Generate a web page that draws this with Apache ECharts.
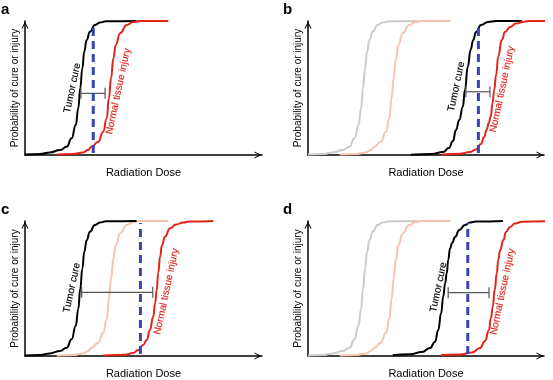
<!DOCTYPE html>
<html>
<head>
<meta charset="utf-8">
<script src="https://cdn.jsdelivr.net/npm/echarts@6/dist/echarts.min.js"></script>
<style>html,body{margin:0;padding:0;background:#fff;}#chart{width:553px;height:380px;}</style>
</head>
<body>
<div id="chart"></div>
<script>
// ---- data: [dose (arbitrary units), probability (%)] ----
// panel a (these two curves reappear faded as the reference curves in panels b-d)
const aTumor = [[0,0.3],[6.3,0.7],[10.5,1.9],[14.8,3.7],[17.6,6.2],[19.7,12.5],[21.4,22.4],[22.5,34.9],[23.3,49.8],[24.2,64.7],[25.0,77.1],[26.0,85.8],[27.4,92.0],[29.5,97.0],[31.6,98.9],[34.2,99.8],[47.1,100]];
const aNormal = [[13.4,0.4],[20.3,0.7],[24.5,1.9],[26.6,3.7],[28.1,6.2],[30.9,9.9],[33.0,17.4],[34.5,27.4],[35.4,42.3],[36.3,57.2],[37.3,72.2],[38.3,82.1],[40.1,90.8],[42.9,97.0],[45.6,99.3],[48.5,100],[60.5,100]];

// panel b
const bTumor = [[43.6,0.2],[52.5,0.7],[57.2,2.2],[59.7,5.2],[61.4,10.4],[62.7,18.7],[64.1,26.1],[65.6,36.0],[66.5,48.5],[67.7,65.9],[68.9,78.4],[70.0,85.8],[71.2,91.8],[73.3,97.0],[76.3,99.3],[79.7,100],[90.6,100]];
const bNormal = [[56.7,0.4],[64.4,0.9],[68.6,2.2],[71.2,4.1],[73.3,8.2],[74.6,13.4],[75.7,18.7],[76.6,23.9],[77.4,28.6],[78.2,38.8],[78.9,48.5],[79.7,59.7],[80.6,73.4],[82.1,85.8],[83.5,91.8],[85.6,95.5],[88.1,98.1],[91.5,99.5],[94.1,100],[103.8,100]];

// panel c (tumor curve unchanged from a)
const cTumor = [[0,0.3],[6.3,0.7],[10.5,1.9],[14.8,3.7],[17.6,6.2],[19.7,12.5],[21.4,22.4],[22.5,34.9],[23.3,49.8],[24.2,64.7],[25.0,77.1],[26.0,85.8],[27.4,92.0],[29.5,97.0],[31.6,98.9],[34.2,99.8],[47.1,100]];
const cNormal = [[33.0,0.4],[42.2,0.9],[45.6,2.2],[47.8,4.4],[49.8,8.1],[51.4,11.9],[52.7,19.3],[54.1,29.1],[54.9,39.3],[55.6,48.9],[56.2,61.5],[57.0,73.6],[57.8,82.2],[59.1,88.4],[61.2,94.6],[63.7,97.4],[66.7,98.9],[69.6,99.6],[79.5,100]];

// panel d
const dTumor = [[35.9,0.5],[43.2,1.3],[48.3,3.0],[51.7,5.9],[53.8,10.4],[55.2,19.3],[56.4,31.6],[57.3,43.9],[58.1,53.9],[58.8,61.3],[59.4,71.1],[60.2,79.8],[61.1,83.9],[62.3,88.1],[64.1,93.3],[66.5,97.0],[68.6,98.9],[71.2,99.6],[82.6,100]];
const dNormal = [[56.4,0.7],[64.4,1.1],[69.5,2.6],[72.9,5.9],[75.0,11.1],[76.7,19.3],[77.5,28.1],[78.3,36.5],[79.1,48.9],[80.0,61.3],[80.6,71.1],[81.4,78.5],[82.8,85.9],[83.9,91.9],[85.6,95.6],[87.7,98.1],[90.7,99.4],[103.8,100]];

// prescribed dose (blue dashed line) per panel a..d
const prescribedDose = [28.8, 72.2, 48.7, 67.7];
const prescribedSpan = [1.5, 98.5];
// therapeutic window bars per panel: [doseFrom, doseTo, probability]
const windowBars = [[23.6,33.8,46.0],[66.9,77.1,47.2],[23.9,53.9,47.2],[59.4,76.7,46.9]];
// curve label anchors per panel: [tumor label [dose, prob], normal label [dose, prob]]
const curveLabelPos = [
  [[20.0,50.0],[39.4,47.5]],
  [[62.9,51.0],[82.3,49.0]],
  [[19.8,50.5],[59.7,47.8]],
  [[55.3,50.9],[82.5,47.6]]
];
const panelLetters = ['a','b','c','d'];
const tumorText = 'Tumor cure';
const normalText = 'Normal tissue injury';
const xAxisTitle = 'Radiation Dose';
const yAxisTitle = 'Probability of cure or injury';

// ---- styling / layout ----
const FONT = '"Liberation Sans", Arial, Helvetica, sans-serif';
const BLACK = '#000000', RED = '#e2231a', BLUE = '#3a44b4', GHOST_GRAY = '#cbcbcb', GHOST_RED = '#f8c3ae', BAR = '#555555';
const grids = [
  {left: 25, top: 21, width: 237, height: 134},
  {left: 308, top: 21, width: 236, height: 134},
  {left: 25, top: 221, width: 237, height: 135},
  {left: 308, top: 221, width: 236, height: 135}
];
const letterPos = [[1,2],[283,2],[1,202],[283,202]];
const chevron = 'path://M0,10 L5,0 L10,10 L8.4,10 L5,3.2 L1.6,10 Z';

const panels = [
  {ghosts: [], tumor: aTumor, normal: aNormal},
  {ghosts: [[aTumor, GHOST_GRAY],[aNormal, GHOST_RED]], tumor: bTumor, normal: bNormal},
  {ghosts: [[aNormal, GHOST_RED]], tumor: cTumor, normal: cNormal},
  {ghosts: [[aTumor, GHOST_GRAY],[aNormal, GHOST_RED]], tumor: dTumor, normal: dNormal}
];

function axisLineCfg() {
  return {show: true, onZero: false, symbol: ['none', chevron], symbolSize: [7, 8], symbolOffset: [0, -4],
          lineStyle: {color: BLACK, width: 1.5}};
}

const xAxes = [], yAxes = [], series = [], titles = [];
grids.forEach((g, i) => {
  g.outerBoundsMode = 'none';
  g.containLabel = false;
  xAxes.push({gridIndex: i, type: 'value', min: 0, max: 100,
    axisLine: axisLineCfg(), axisTick: {show: false}, axisLabel: {show: false}, splitLine: {show: false},
    name: xAxisTitle, nameLocation: 'middle', nameGap: 12,
    nameTextStyle: {fontFamily: FONT, fontSize: 11, color: BLACK}});
  yAxes.push({gridIndex: i, type: 'value', min: 0, max: 100,
    axisLine: axisLineCfg(), axisTick: {show: false}, axisLabel: {show: false}, splitLine: {show: false},
    name: yAxisTitle, nameLocation: 'middle', nameGap: 5,
    nameTextStyle: {fontFamily: FONT, fontSize: 10, color: BLACK}});
  titles.push({text: panelLetters[i], left: letterPos[i][0], top: letterPos[i][1], padding: 0,
    textStyle: {fontFamily: FONT, fontSize: 15, fontWeight: 'bold', color: BLACK}});

  const p = panels[i];
  const lineBase = {type: 'line', xAxisIndex: i, yAxisIndex: i, symbol: 'none', smooth: 0.5,
    smoothMonotone: 'x', clip: false, silent: true};
  p.ghosts.forEach(([d, c]) => series.push(Object.assign({}, lineBase, {data: d, lineStyle: {color: c, width: 2}, z: 2})));
  series.push(Object.assign({}, lineBase, {data: p.tumor, lineStyle: {color: BLACK, width: 2}, z: 3}));
  series.push(Object.assign({}, lineBase, {data: p.normal, lineStyle: {color: RED, width: 2}, z: 3}));
  series.push({type: 'custom', xAxisIndex: i, yAxisIndex: i, silent: true, z: 4,
    data: [windowBars[i]], encode: {x: [0, 1], y: 2},
    renderItem: function (params, api) {
      const y = api.value(2);
      const p1 = api.coord([api.value(0), y]);
      const p2 = api.coord([api.value(1), y]);
      const cap = 5.5;
      const st = {stroke: BAR, lineWidth: 1.2};
      return {type: 'group', children: [
        {type: 'line', shape: {x1: p1[0], y1: p1[1], x2: p2[0], y2: p2[1]}, style: st},
        {type: 'line', shape: {x1: p1[0], y1: p1[1] - cap, x2: p1[0], y2: p1[1] + cap}, style: st},
        {type: 'line', shape: {x1: p2[0], y1: p2[1] - cap, x2: p2[0], y2: p2[1] + cap}, style: st}
      ]};
    }});
  series.push(Object.assign({}, lineBase, {smooth: false,
    data: [[prescribedDose[i], prescribedSpan[0]], [prescribedDose[i], prescribedSpan[1]]],
    lineStyle: {color: BLUE, width: 3, type: [8, 5]}, z: 5}));
  series.push({type: 'scatter', xAxisIndex: i, yAxisIndex: i, symbolSize: 0, silent: true, z: 6,
    itemStyle: {opacity: 1},
    data: [
      {value: curveLabelPos[i][0], name: tumorText, label: {color: BLACK, textBorderColor: BLACK}},
      {value: curveLabelPos[i][1], name: normalText, label: {color: RED, textBorderColor: RED}}
    ],
    label: {show: true, position: 'inside', formatter: '{b}', rotate: 78, fontFamily: FONT, fontSize: 10,
      opacity: 1, align: 'center', verticalAlign: 'middle', textBorderWidth: 0.15}});
});

const chart = echarts.init(document.getElementById('chart'), null, {renderer: 'canvas'});
chart.setOption({
  animation: false,
  backgroundColor: '#ffffff',
  title: titles,
  grid: grids,
  xAxis: xAxes,
  yAxis: yAxes,
  series: series
});
</script>
</body>
</html>
